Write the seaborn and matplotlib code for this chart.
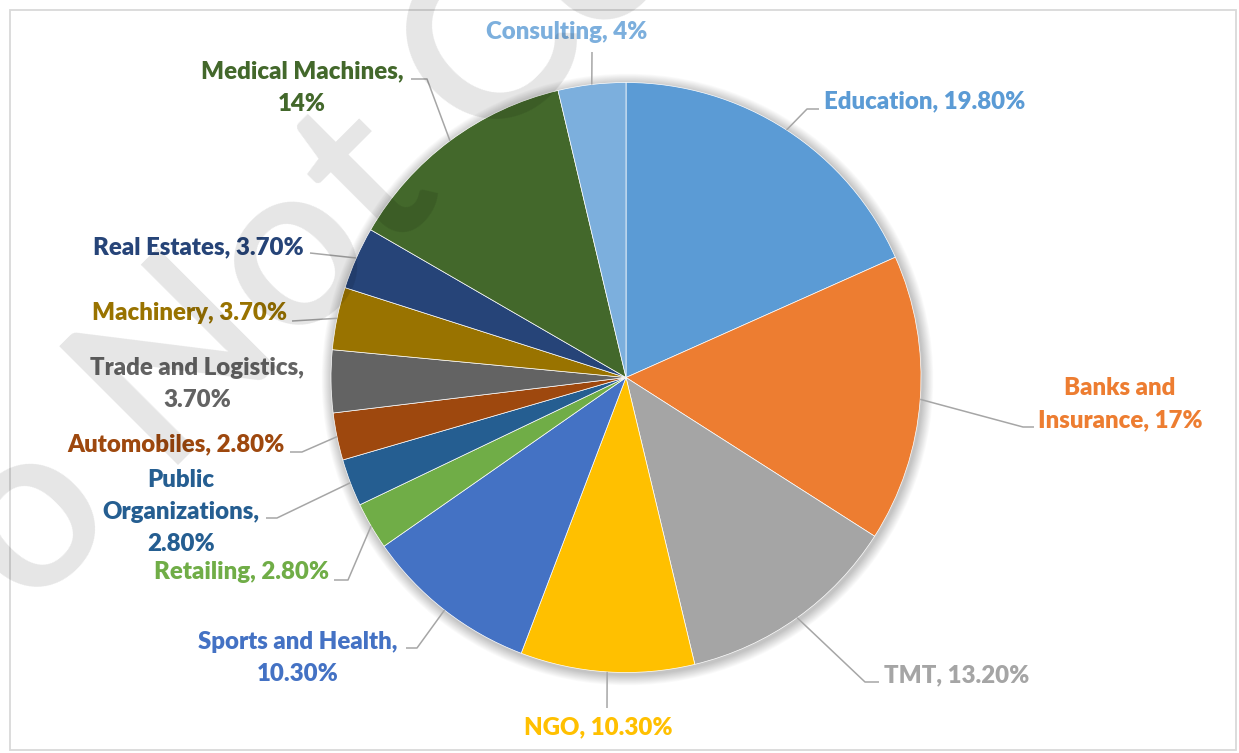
import matplotlib
matplotlib.use("Agg")
import matplotlib.pyplot as plt
import seaborn as sns
import numpy as np
from matplotlib.patches import Circle, Rectangle

# ---------------- data ----------------
categories = ["Education", "Banks and Insurance", "TMT", "NGO", "Sports and Health",
              "Retailing", "Public Organizations", "Automobiles", "Trade and Logistics",
              "Machinery", "Real Estates", "Medical Machines", "Consulting"]
shares = [19.8, 17, 13.2, 10.3, 10.3, 2.8, 2.8, 2.8, 3.7, 3.7, 3.7, 14, 4]
label_texts = ["Education, 19.80%", "Banks and\nInsurance, 17%", "TMT, 13.20%",
               "NGO, 10.30%", "Sports and Health,\n10.30%", "Retailing, 2.80%",
               "Public\nOrganizations,\n2.80%", "Automobiles, 2.80%",
               "Trade and Logistics,\n3.70%", "Machinery, 3.70%", "Real Estates, 3.70%",
               "Medical Machines,\n14%", "Consulting, 4%"]
colors = ["#5B9BD5", "#ED7D31", "#A5A5A5", "#FFC000", "#4472C4", "#70AD47", "#255E91",
          "#9E480E", "#636363", "#997300", "#264478", "#43682B", "#7CAFDD"]

# ---------------- layout (pixel coords, y downward) ----------------
W, H = 1239, 753
CX, CY, R = 626, 377.5, 295
label_layout = [
    dict(xy=(824, 101), ha="left", path=[(807, 109), (819, 109)]),
    dict(xy=(1120, 404), ha="center", path=[(1023, 427), (1034, 427)]),
    dict(xy=(884, 675), ha="left", path=[(865, 682), (879, 682)]),
    dict(xy=(598, 727), ha="center", path=[(607, 708)]),
    dict(xy=(298, 658), ha="center", path=[(417, 648), (406, 648)]),
    dict(xy=(329, 572), ha="right", path=[(348, 580), (334, 580)]),
    dict(xy=(181, 512), ha="center", path=[(277, 518), (266, 518)]),
    dict(xy=(285, 444), ha="right", path=[(302, 452), (290, 452)]),
    dict(xy=(197, 384), ha="center", path=None),
    dict(xy=(287, 313), ha="right", path=[(292, 321)]),
    dict(xy=(304, 247), ha="right", path=[(310, 253)]),
    dict(xy=(302, 88), ha="center", path=[(427, 79), (411, 79)]),
    dict(xy=(567, 32), ha="center", path=[(592, 52)]),
]
LABEL_FS = 17.3


def Y(y):
    return H - y


sns.set_style("white")
plt.rcParams["font.family"] = ["Lato", "DejaVu Sans"]

fig = plt.figure(figsize=(W / 100, H / 100), dpi=100)
ax = fig.add_axes([0, 0, 1, 1])

# soft shadow behind the pie
for k in range(12, 0, -1):
    ax.add_patch(Circle((CX + 1.5, Y(CY) - 2), R + k * 0.9, color="black",
                        alpha=0.018, lw=0, zorder=1))

wedges, _ = ax.pie(shares, colors=colors, startangle=90, counterclock=False,
                   radius=R, center=(CX, Y(CY)), frame=True,
                   wedgeprops=dict(edgecolor="white", linewidth=0.5, zorder=2))
for w in wedges:
    w.set_zorder(2)

# labels with leader lines
for w, txt, col, lay in zip(wedges, label_texts, colors, label_layout):
    mid = np.deg2rad((w.theta1 + w.theta2) / 2)
    ex, ey = CX + R * np.cos(mid), Y(CY) + R * np.sin(mid)
    if lay["path"]:
        xs = [ex] + [p[0] for p in lay["path"]]
        ys = [ey] + [Y(p[1]) for p in lay["path"]]
        ax.plot(xs, ys, color="#a6a6a6", lw=1.1, zorder=3, solid_capstyle="butt")
    ax.text(lay["xy"][0], Y(lay["xy"][1]), txt, ha=lay["ha"], va="center",
            multialignment="center", color=col, fontsize=LABEL_FS,
            fontweight="heavy", linespacing=1.58, zorder=4)

# chart frame
ax.add_patch(Rectangle((9.5, Y(750)), 1226.5, 740.5, fill=False,
                       edgecolor="#d9d9d9", lw=1.3, zorder=0))

# watermark
ax.text(-96, Y(740), "Do Not Copy", rotation=45, rotation_mode="anchor",
        ha="left", va="baseline", fontsize=168, fontweight="semibold",
        color="black", alpha=0.10, zorder=6)

ax.set_xlim(0, W)
ax.set_ylim(0, H)
ax.set_aspect("auto")
ax.axis("off")
fig.savefig("out.png", dpi=100)
